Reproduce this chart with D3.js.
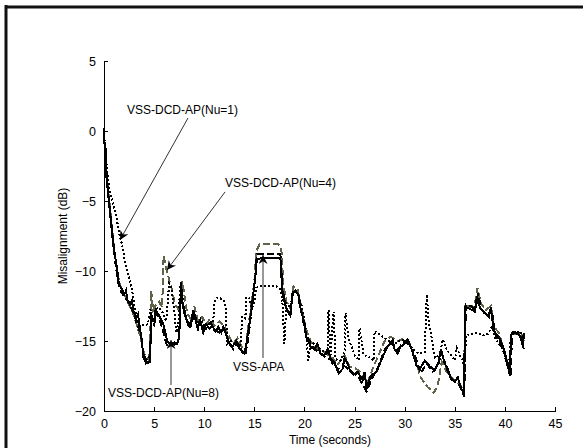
<!doctype html>
<html lang="en">
<head>
<meta charset="UTF-8">
<title>Misalignment vs time</title>
<script src="https://cdn.jsdelivr.net/npm/d3@7"></script>
<style>
  body { margin: 0; background: #fff; }
  svg { display: block; font-family: "Liberation Sans", Arial, sans-serif; }
</style>
</head>
<body>
<div id="chart"></div>
<script>
// ---- data (time in s, misalignment in dB) ----
const xTicks = [0, 5, 10, 15, 20, 25, 30, 35, 40, 45]
const yTicks = [5, 0, -5, -10, -15, -20]

const apa = [
  [0,0.2],[0.05,-0.8],[0.1,-1.6],[0.15,-1.2],[0.2,-2.2],[0.3,-3.5],[0.4,-4.3],[0.5,-5.0],[0.7,-6.4],[0.9,-7.8],
  [1.1,-8.9],[1.3,-9.8],[1.5,-11.0],[1.8,-11.3],[2.0,-11.7],[2.2,-11.4],[2.3,-12.0],[2.6,-12.4],[2.8,-12.1],[2.9,-12.8],
  [3.2,-13.4],[3.4,-13.1],[3.6,-14.2],[3.8,-15.0],[3.9,-16.1],[4.2,-16.6],[4.6,-16.5],[4.7,-12.9],[4.8,-13.6],[5.0,-13.5],
  [5.2,-12.8],[5.5,-13.2],[5.8,-13.6],[6.0,-14.0],[6.3,-15.0],[6.6,-15.2],[7.0,-15.1],[7.3,-15.2],[7.5,-14.7],[7.7,-10.8],
  [7.8,-12.2],[8.1,-13.1],[8.4,-13.9],[8.6,-14.0],[8.9,-12.8],[9.1,-13.4],[9.3,-14.0],[9.6,-13.5],[9.9,-14.4],[10.2,-13.8],
  [10.5,-14.1],[10.8,-13.9],[11.1,-14.3],[11.4,-14.0],[11.7,-14.4],[11.9,-14.0],[12.3,-14.8],[12.6,-15.3],[12.8,-15.4],[13.2,-15.0],
  [13.5,-15.5],[13.7,-15.7],[14.0,-15.9],[14.2,-15.2],[14.4,-14.3],[14.7,-12.8],[14.9,-11.6],[15.1,-10.5],[15.2,-9.2],[15.6,-9.1],
  [16.5,-9.1],[17.6,-9.1],[17.8,-11.6],[18.1,-12.5],[18.4,-13.0],[18.6,-13.2],[18.8,-11.6],[19.1,-11.4],[19.4,-11.7],[19.6,-12.6],
  [19.9,-13.5],[20.2,-14.7],[20.6,-15.4],[21.0,-15.6],[21.3,-15.2],[21.6,-15.9],[22.0,-16.0],[22.3,-15.6],[22.6,-16.2],[22.8,-16.6],
  [23.0,-16.5],[23.4,-17.3],[23.8,-17.0],[24.0,-16.2],[24.3,-16.6],[24.6,-17.2],[24.9,-17.4],[25.3,-17.2],[25.8,-17.8],[26.0,-17.2],
  [26.2,-18.4],[26.6,-17.5],[27.2,-17.2],[27.6,-16.5],[27.9,-16.0],[28.3,-15.4],[28.6,-15.2],[28.8,-14.9],[29.0,-15.6],[29.3,-15.9],
  [29.6,-15.4],[30.0,-15.2],[30.3,-14.9],[30.7,-15.6],[31.0,-16.3],[31.2,-16.8],[31.5,-17.0],[32.0,-16.4],[32.5,-16.8],[33.0,-17.1],
  [33.4,-16.5],[33.6,-15.6],[34.0,-16.6],[34.3,-17.0],[34.6,-17.7],[35.0,-17.9],[35.3,-17.6],[35.6,-18.3],[35.9,-18.8],[36.05,-12.6],
  [36.5,-12.7],[37.0,-12.9],[37.2,-11.8],[37.5,-12.6],[38.0,-13.0],[38.4,-13.3],[38.6,-12.6],[38.9,-14.3],[39.3,-14.6],[39.6,-15.0],
  [40.0,-15.8],[40.3,-16.8],[40.5,-17.4],[40.6,-14.6],[41.0,-14.4],[41.5,-14.6],[41.8,-15.4],[41.9,-14.4]
]

const nu8 = [
  [0,0.0],[0.1,-1.9],[0.3,-3.9],[0.5,-5.3],[0.8,-7.3],[1.1,-9.2],[1.4,-10.8],[1.7,-11.5],[2.1,-11.9],[2.5,-12.3],
  [2.9,-12.9],[3.3,-13.8],[3.7,-14.6],[3.9,-15.9],[4.3,-16.4],[4.6,-16.0],[4.75,-13.2],[5.0,-13.8],[5.3,-13.0],[5.7,-13.8],
  [6.0,-14.6],[6.3,-15.4],[6.8,-15.2],[7.2,-15.3],[7.5,-14.8],[7.7,-11.2],[7.9,-12.8],[8.3,-13.6],[8.7,-13.9],[9.0,-13.0],
  [9.4,-14.2],[9.8,-14.0],[10.2,-14.1],[10.6,-13.7],[11.0,-14.2],[11.5,-14.4],[12.0,-14.1],[12.4,-15.0],[12.9,-15.6],[13.3,-15.1],
  [13.8,-15.8],[14.1,-16.0],[14.4,-14.8],[14.8,-12.3],[15.1,-10.3],[15.3,-8.8],[17.6,-8.8],[17.8,-11.2],[18.2,-12.8],[18.6,-13.0],
  [18.9,-11.3],[19.3,-11.6],[19.7,-13.0],[20.1,-14.4],[20.6,-15.2],[21.2,-15.7],[22.0,-16.1],[22.8,-16.4],[23.3,-17.0],[24.0,-16.8],
  [24.7,-17.2],[25.4,-17.6],[26.2,-18.6],[26.8,-17.6],[27.4,-16.8],[28.0,-15.6],[28.6,-15.1],[29.3,-15.6],[30.0,-15.0],[30.5,-15.3],
  [31.0,-16.0],[31.6,-17.3],[32.2,-16.6],[32.8,-17.2],[33.3,-16.8],[33.7,-15.8],[34.2,-17.0],[34.8,-17.8],[35.5,-18.2],[35.95,-19.0],
  [36.1,-12.4],[36.6,-12.5],[37.1,-12.8],[37.3,-11.6],[37.7,-12.8],[38.2,-13.2],[38.7,-12.8],[39.0,-14.5],[39.5,-15.1],[40.0,-16.0],
  [40.4,-17.2],[40.6,-17.6],[40.7,-14.4],[41.2,-14.3],[41.6,-14.8],[41.9,-15.6]
]

const nu4 = [
  [0,-0.2],[0.1,-1.4],[0.3,-3.3],[0.5,-4.8],[0.8,-7.0],[1.1,-8.9],[1.4,-10.4],[1.7,-11.2],[2.1,-11.8],[2.5,-12.4],
  [2.9,-13.0],[3.3,-13.9],[3.7,-14.9],[4.0,-15.9],[4.4,-16.3],[4.6,-15.7],[4.7,-11.4],[4.9,-12.8],[5.2,-12.4],[5.5,-12.2],
  [5.8,-12.6],[5.95,-8.9],[6.2,-9.8],[6.5,-10.6],[6.8,-11.4],[7.1,-12.4],[7.5,-12.8],[7.8,-10.7],[8.0,-11.6],[8.3,-13.0],
  [8.7,-13.5],[9.0,-12.5],[9.4,-13.6],[9.8,-13.3],[10.2,-13.8],[10.6,-13.4],[11.0,-13.9],[11.5,-13.6],[12.0,-13.9],[12.4,-14.6],
  [12.9,-15.2],[13.3,-14.8],[13.8,-15.5],[14.1,-15.6],[14.4,-14.0],[14.7,-12.4],[15.0,-10.8],[15.2,-8.6],[15.5,-8.1],[17.4,-8.1],
  [17.7,-8.5],[17.9,-11.0],[18.2,-12.2],[18.6,-12.7],[18.9,-11.1],[19.3,-11.3],[19.7,-12.6],[20.1,-14.0],[20.6,-15.0],[21.2,-15.5],
  [22.0,-15.8],[22.8,-16.2],[23.3,-16.7],[24.0,-16.0],[24.5,-16.8],[25.2,-17.0],[25.8,-17.4],[26.3,-18.0],[26.8,-17.0],[27.4,-16.0],
  [28.0,-15.0],[28.6,-14.7],[29.3,-15.0],[30.0,-14.8],[30.5,-15.2],[31.0,-16.2],[31.6,-17.6],[32.3,-18.3],[32.9,-18.7],[33.3,-18.2],
  [33.7,-16.5],[34.2,-17.2],[34.8,-17.7],[35.5,-18.1],[35.9,-18.6],[36.05,-12.4],[36.6,-12.6],[37.0,-12.4],[37.25,-11.2],[37.6,-12.3],
  [38.1,-12.8],[38.6,-12.5],[38.9,-14.0],[39.4,-14.4],[39.8,-15.4],[40.2,-16.4],[40.5,-17.0],[40.65,-14.5],[41.1,-14.5],[41.6,-14.4],
  [41.9,-15.0]
]

const nu1 = [
  [0,-0.3],[0.1,-1.0],[0.3,-2.8],[0.5,-4.0],[0.8,-4.9],[1.1,-5.7],[1.4,-6.8],[1.6,-7.6],[1.8,-8.1],[2.1,-9.4],
  [2.4,-10.2],[2.6,-10.7],[2.9,-11.8],[3.2,-13.2],[3.5,-13.8],[4.0,-13.9],[4.4,-13.8],[4.6,-12.8],[5.0,-12.9],[5.4,-12.6],
  [5.8,-12.9],[6.2,-13.6],[6.5,-10.9],[6.7,-11.1],[7.0,-12.8],[7.2,-14.4],[7.4,-14.0],[7.6,-11.0],[7.8,-11.8],[8.2,-13.4],
  [8.6,-13.8],[9.0,-13.0],[9.4,-14.0],[9.8,-13.6],[10.2,-14.2],[10.6,-13.6],[10.9,-13.7],[11.0,-12.2],[11.3,-11.9],[11.8,-12.0],
  [12.1,-12.3],[12.3,-15.2],[12.7,-15.0],[13.2,-15.3],[13.6,-15.4],[13.8,-13.3],[14.1,-13.4],[14.2,-11.9],[14.5,-11.9],[14.7,-12.8],
  [15.0,-12.2],[15.2,-11.2],[15.6,-11.1],[17.2,-11.1],[17.6,-11.3],[17.8,-12.2],[18.0,-15.2],[18.2,-12.3],[18.6,-12.6],[18.9,-11.4],
  [19.3,-11.6],[19.7,-12.4],[20.1,-14.0],[20.4,-16.4],[20.6,-15.0],[21.2,-15.4],[22.0,-15.8],[22.3,-16.0],[22.4,-12.8],[22.6,-16.0],
  [22.9,-12.9],[23.1,-16.3],[23.6,-16.4],[24.0,-15.8],[24.1,-13.0],[24.4,-14.8],[25.0,-16.0],[25.4,-16.4],[25.5,-14.1],[25.9,-16.0],
  [26.6,-16.2],[26.9,-16.4],[27.0,-14.3],[27.6,-14.6],[28.4,-15.0],[29.0,-15.2],[29.6,-14.9],[30.2,-15.0],[30.8,-15.6],[31.4,-15.9],
  [32.0,-15.8],[32.2,-11.7],[32.4,-13.6],[32.7,-14.8],[33.0,-16.2],[33.5,-16.0],[33.8,-14.9],[34.2,-15.6],[34.6,-16.0],[35.0,-16.4],
  [35.2,-15.5],[35.5,-16.0],[35.8,-16.4],[36.0,-17.2],[36.1,-14.6],[36.6,-14.5],[37.2,-14.4],[37.8,-14.6],[38.3,-14.5],[38.7,-14.0],
  [39.0,-14.8],[39.4,-15.2],[39.8,-15.6],[40.2,-16.6],[40.4,-17.0],[40.6,-14.6],[41.0,-14.4],[41.5,-14.3],[41.9,-14.9]
]

// ---- layout ----
const W = 583, H = 448
const x = d3.scaleLinear().domain([0, 45]).range([104, 555])
const y = d3.scaleLinear().domain([-20, 5]).range([411, 61])

const svg = d3.select('#chart').append('svg')
    .attr('width', W).attr('height', H)

svg.append('rect').attr('width', W).attr('height', H).attr('fill', '#fff')

// outer frame (top and left only are visible in the crop)
svg.append('line').attr('x1', 5).attr('x2', W).attr('y1', 7).attr('y2', 7)
    .attr('stroke', '#111').attr('stroke-width', 3)
svg.append('line').attr('x1', 6).attr('x2', 6).attr('y1', 5).attr('y2', H)
    .attr('stroke', '#111').attr('stroke-width', 3)

// axes, ticks pointing inward like matlab
const xAxis = d3.axisBottom(x).tickValues(xTicks).tickSizeInner(-4).tickSizeOuter(0).tickPadding(8)
const yAxis = d3.axisLeft(y).tickValues(yTicks).tickSizeInner(-4).tickSizeOuter(0).tickPadding(8)

const gx = svg.append('g').attr('transform', 'translate(0,411)').call(xAxis)
const gy = svg.append('g').attr('transform', 'translate(104,0)').call(yAxis)
;[gx, gy].forEach(g => {
    g.selectAll('path, line').attr('stroke', '#000').attr('shape-rendering', 'crispEdges')
    g.selectAll('text').attr('font-size', 12.5).attr('fill', '#000')
        .attr('font-family', '"Liberation Sans", Arial, sans-serif')
})

svg.append('text').attr('x', 330).attr('y', 444).attr('text-anchor', 'middle')
    .attr('font-size', 12).text('Time (seconds)')
svg.append('text').attr('transform', 'translate(67,236) rotate(-90)').attr('text-anchor', 'middle')
    .attr('font-size', 12).text('Misalignment (dB)')

// ---- series ----
const line = d3.line().x(d => x(d[0])).y(d => y(d[1]))

const series = [
    {data: nu4, color: '#62624a', width: 2, dash: '7,3'},
    {data: nu1, color: '#000', width: 2, dash: '2,2'},
    {data: nu8, color: '#000', width: 2, dash: '7,3'},
    {data: apa, color: '#000', width: 2, dash: null}
]
series.forEach(s => {
    svg.append('path').datum(s.data)
        .attr('d', line)
        .attr('fill', 'none')
        .attr('stroke', s.color)
        .attr('stroke-width', s.width)
        .attr('stroke-linejoin', 'miter')
        .attr('stroke-dasharray', s.dash)
        .attr('shape-rendering', 'optimizeSpeed')
})

// ---- annotations ----
svg.append('defs').append('marker')
    .attr('id', 'arr').attr('viewBox', '0 0 10 10')
    .attr('refX', 10).attr('refY', 5)
    .attr('markerWidth', 9).attr('markerHeight', 9)
    .attr('markerUnits', 'userSpaceOnUse')
    .attr('orient', 'auto')
    .append('path').attr('d', 'M0,0 L10,5 L0,10 L3,5 Z').attr('fill', '#000')

const notes = [
    {label: 'VSS-DCD-AP(Nu=1)', tx: 127, ty: 114, from: [188, 118], to: [120, 240]},
    {label: 'VSS-DCD-AP(Nu=4)', tx: 225, ty: 187, from: [225, 192], to: [167, 270]},
    {label: 'VSS-DCD-AP(Nu=8)', tx: 108, ty: 397, from: [171, 385], to: [171, 340]},
    {label: 'VSS-APA', tx: 233, ty: 371, from: [263, 358], to: [263, 255]}
]
notes.forEach(n => {
    svg.append('line')
        .attr('x1', n.from[0]).attr('y1', n.from[1])
        .attr('x2', n.to[0]).attr('y2', n.to[1])
        .attr('stroke', '#333').attr('stroke-width', 1)
        .attr('marker-end', 'url(#arr)')
    svg.append('text').attr('x', n.tx).attr('y', n.ty)
        .attr('font-size', 12).attr('fill', '#000').text(n.label)
})
</script>
</body>
</html>
